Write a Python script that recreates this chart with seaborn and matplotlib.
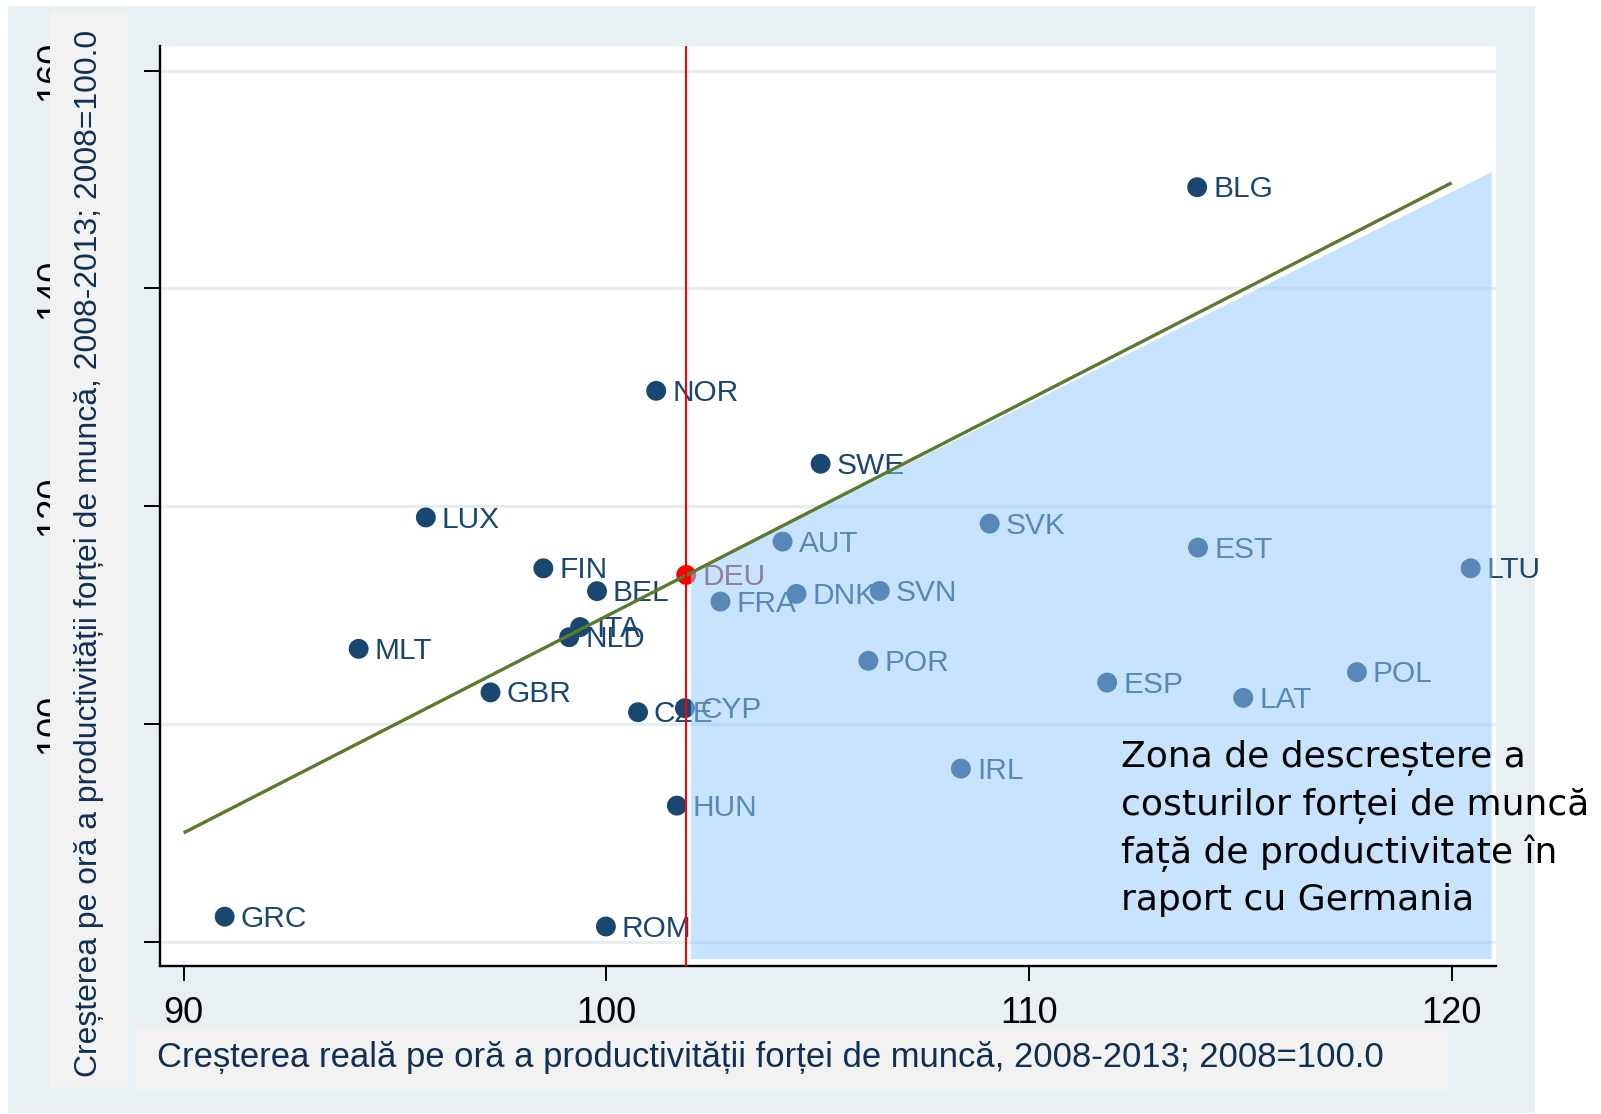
import numpy as np
import pandas as pd
import matplotlib
matplotlib.use("Agg")
import matplotlib.pyplot as plt
import seaborn as sns
from matplotlib.patches import Rectangle, Polygon

# ---------------- data ----------------
countries = ['BLG', 'NOR', 'SWE', 'LUX', 'SVK', 'AUT', 'EST', 'FIN', 'LTU', 'DEU',
             'BEL', 'DNK', 'SVN', 'FRA', 'ITA', 'NLD', 'MLT', 'POR', 'POL', 'ESP',
             'GBR', 'LAT', 'CZE', 'CYP', 'IRL', 'HUN', 'GRC', 'ROM']
productivity = [113.98, 101.18, 105.07, 95.73, 109.07, 104.17, 114.00, 98.51, 120.45, 101.89,
                99.78, 104.50, 106.47, 102.70, 99.38, 99.12, 94.14, 106.20, 117.76, 111.85,
                97.26, 115.07, 100.75, 101.86, 108.39, 101.67, 90.97, 99.99]
labour_cost = [149.3, 130.6, 123.9, 118.97, 118.4, 116.75, 116.2, 114.3, 114.3, 113.69,
               112.2, 111.95, 112.22, 111.24, 108.9, 107.97, 106.9, 105.8, 104.76, 103.8,
               102.9, 102.4, 101.08, 101.45, 95.9, 92.5, 82.3, 81.4]
reference = 'DEU'

line_x = [90.0, 120.0]
line_y = [90.0, 149.7]

shade_x = [102.0, 120.95, 120.95, 102.0]
shade_y = [113.9, 150.7, 78.4, 78.4]

x_ticks = [90, 100, 110, 120]
x_tick_labels = ['90', '100', '110', '120']
y_ticks = [80, 100, 120, 140, 160]
y_tick_labels = ['', '100', '120', '140', '160']

x_title = "Creșterea reală pe oră a productivității forței de muncă, 2008-2013; 2008=100.0"
y_title = "Creșterea pe oră a productivității forței de muncă, 2008-2013; 2008=100.0"
note_lines = ["Zona de descreștere a", "costurilor forței de muncă",
              "față de productivitate în", "raport cu Germania"]

# ---------------- style ----------------
NAVY = '#1a476f'
TITLE = '#0f2f55'
W, H, DPI = 1601, 1114, 100

sns.set_theme(style='white')
plt.rcParams['font.family'] = ['Liberation Sans', 'DejaVu Sans']

fig = plt.figure(figsize=(W / DPI, H / DPI), dpi=DPI, facecolor='white')


def fx(px):
    return px / W


def fy(py):
    return 1 - py / H


def frect(x0, y0, x1, y1, color, z):
    fig.patches.append(Rectangle((fx(x0), fy(y1)), fx(x1) - fx(x0), fy(y0) - fy(y1),
                                 transform=fig.transFigure, facecolor=color,
                                 edgecolor='none', zorder=z))


frect(8, 6, 1535, 1113, '#e8f0f3', -10)      # outer panel
frect(50, 11, 128, 1087, '#f2f2f2', 1)       # y title box
frect(136, 1028, 1448, 1090, '#f2f2f2', 1)   # x title box

ax = fig.add_axes([fx(160), fy(966), fx(1496) - fx(160), fy(46) - fy(966)])
ax.set_facecolor('white')
ax.set_xlim(89.44, 121.05)
ax.set_ylim(77.77, 162.27)

df = pd.DataFrame({'country': countries, 'x': productivity, 'y': labour_cost})
df['grp'] = np.where(df['country'] == reference, 'ref', 'other')

sns.scatterplot(data=df, x='x', y='y', hue='grp', palette={'other': NAVY, 'ref': '#ff0000'},
                s=205, linewidth=0, legend=False, ax=ax, zorder=2)

for _, r in df.iterrows():
    ax.annotate(r['country'], (r['x'], r['y']), xytext=(11.5, -1.5), textcoords='offset points',
                ha='left', va='center', fontsize=21.5,
                color=('#90353b' if r['country'] == reference else NAVY), zorder=2)

ax.add_patch(Polygon(np.column_stack([shade_x, shade_y]), closed=True,
                     facecolor='#93c8fd', alpha=0.51, edgecolor='none', zorder=3))

ax.plot(line_x, line_y, color='#5a7a2c', lw=2.4, zorder=4, solid_capstyle='butt')
ax.axvline(df.loc[df['country'] == reference, 'x'].iloc[0], color='#ff0000', lw=1.5, zorder=4)

ax.set_xticks(x_ticks)
ax.set_xticklabels(x_tick_labels)
ax.set_yticks(y_ticks)
ax.set_yticklabels(y_tick_labels)
ax.set_xlabel('')
ax.set_ylabel('')
ax.yaxis.grid(True, color='#e7eef1', lw=2.4)
ax.xaxis.grid(False)
ax.set_axisbelow(True)
for s in ['top', 'right']:
    ax.spines[s].set_visible(False)
for s in ['left', 'bottom']:
    ax.spines[s].set_color('black')
    ax.spines[s].set_linewidth(1.7)

ax.tick_params(axis='x', bottom=True, direction='out', length=10.8, width=1.4,
               pad=11, labelsize=26, colors='black')
ax.tick_params(axis='y', left=True, direction='out', length=11.5, width=1.4,
               pad=54, labelsize=26, colors='black', labelrotation=90)
for lab in ax.get_yticklabels():
    lab.set_va('center')

renderer = fig.canvas.get_renderer()


def fit(t, target, dim='w'):
    for _ in range(4):
        bb = t.get_window_extent(renderer)
        cur = bb.width if dim == 'w' else bb.height
        t.set_fontsize(t.get_fontsize() * target / cur)


xt = fig.text(fx(157), fy(1058), x_title, ha='left', va='center', fontsize=22,
              color=TITLE, zorder=3)
fit(xt, 1227, 'w')

yt = fig.text(fx(89), fy(553), y_title, rotation=90, ha='center', va='center', fontsize=23,
              family=['Liberation Sans Narrow', 'Liberation Sans', 'DejaVu Sans'],
              color=TITLE, zorder=3)
fit(yt, 1047, 'h')

baselines = [767, 815, 863, 910]
probe = fig.text(0, 0, note_lines[1], fontsize=26, family=['DejaVu Sans'])
fit(probe, 467, 'w')
note_size = probe.get_fontsize()
probe.remove()
for line, b in zip(note_lines, baselines):
    fig.text(fx(1121), fy(b), line, ha='left', va='baseline', fontsize=note_size,
             family=['DejaVu Sans'], color='black', zorder=5)

fig.savefig('out.png', dpi=DPI, facecolor='white')
